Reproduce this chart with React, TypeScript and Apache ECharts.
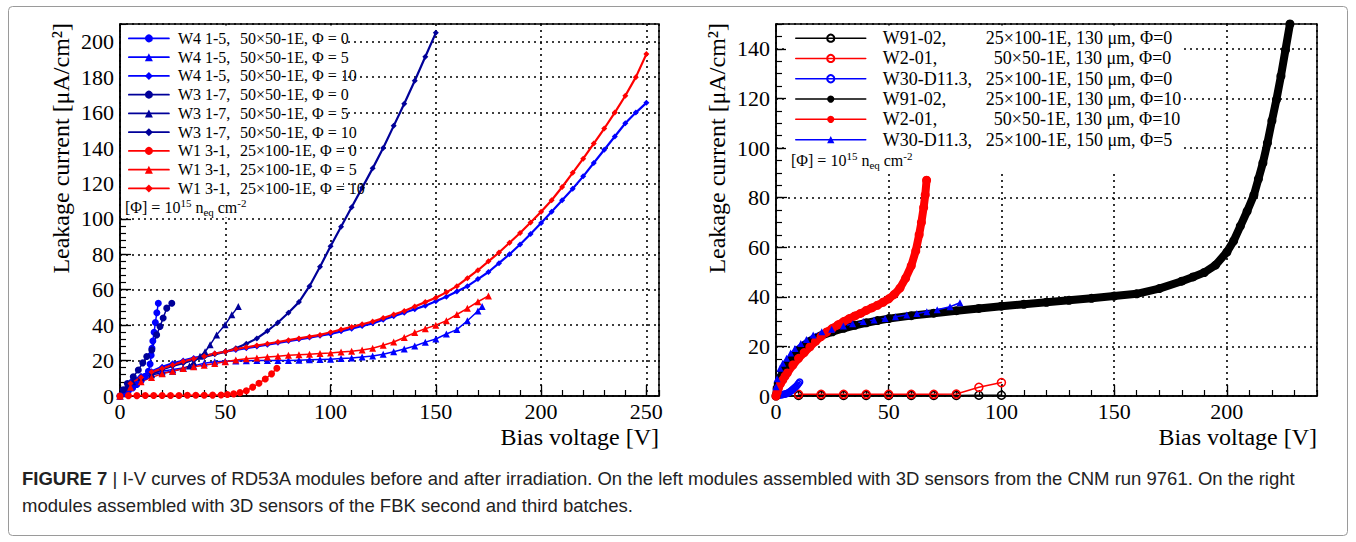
import React, { useEffect, useRef } from 'react';
import * as echarts from 'echarts';

type P = [number, number];

// ---------------- Left panel: CNM run 9761 (bias [V], current [uA/cm2]) ----------------
const L_W4_F0: P[] = [[0,0],[2,1.5],[4,3],[6,4.5],[8,6.5],[10,8.5],[12,11],[13.5,14],[14.3,18],[14.8,23],[15.2,27],[15.6,31],[16.2,36],[16.8,41.5],[17.5,47],[18.2,52.4]];
const L_W4_F5: P[] = [[0,0],[5,6.5],[10,10],[15,12.5],[20,14],[25,15],[30,15.8],[35,17],[40,18.5],[45,19.3],[50,19.6],[55,19.8],[60,19.9],[65,20],[70,20],[75,20],[80,20],[85,20.2],[90,20.4],[95,20.6],[100,20.8],[105,21.1],[110,21.4],[115,22],[120,22.6],[125,23.6],[130,25],[135,26.5],[140,28.2],[145,30.4],[150,32.2],[155,35],[160,37.5],[165,42.5],[170,48],[172,50.5]];
const L_W4_F10: P[] = [[0,0],[5,8],[10,11.5],[15,14],[20,16.5],[25,18.5],[30,20],[35,21.5],[40,22.5],[45,24],[50,25],[55,26],[60,27],[65,28],[70,29],[75,30],[80,31],[85,32],[90,33],[95,34],[100,35],[105,36.5],[110,38],[115,39.5],[120,41],[125,43],[130,45],[135,47],[140,49],[145,51],[150,53.5],[155,56],[160,59],[165,62],[170,66],[175,70],[180,75],[185,80],[190,85.5],[195,91.5],[200,97.7],[205,104],[210,110.5],[215,117],[220,124],[225,131.5],[230,139],[235,146.5],[240,154],[245,160],[250,165.5]];
const L_W3_F0: P[] = [[0,0],[1.5,3.5],[3.5,7],[6.3,10.9],[8.7,14.7],[10.8,18.7],[12.7,22.3],[15.1,26],[17.4,34.5],[19,39.2],[20.5,44],[22.2,49.6],[24.6,52.4]];
const L_W3_F5: P[] = [[0,0],[3,5],[6,8],[10,10.5],[15,12],[20,13],[25,14],[30,15.5],[33,17],[35,19],[38,22.5],[40.4,25],[42.8,28.9],[45.9,34.5],[49.9,40.2],[53.1,45.8],[56.2,50.5]];
const L_W3_F10: P[] = [[0,0],[5,7],[10,10],[15,12.5],[20,15],[25,17],[30,18.5],[35,20.5],[40,22],[45,23.5],[50,25],[55,27],[60,29.5],[65,32.5],[70,36.7],[75,41.5],[80,47],[85,53],[90,62],[95,73],[100,84.5],[105,95.5],[110,106.5],[115,117.5],[120,128.5],[125,140],[130,152.5],[135,165],[140,178],[145,191.5],[150,205]];
const L_W1_F0: P[] = [[0,0],[4,0.2],[8,0.2],[12,0.3],[16,0.3],[20,0.3],[24,0.3],[28,0.3],[32,0.4],[36,0.4],[40,0.4],[44,0.5],[48,0.6],[51,0.8],[54,1.2],[57,1.9],[60,3],[63,5],[66,7.2],[69,9.6],[72,12.5],[74.5,15.7]];
const L_W1_F5: P[] = [[0,0],[5,5],[10,8],[15,10.5],[20,12.5],[25,14],[30,15.5],[35,16.5],[40,17.3],[45,18.3],[50,19.3],[55,20.3],[60,21],[65,21.5],[70,22],[75,22.5],[80,23],[85,23.3],[90,23.6],[95,24],[100,24.3],[105,24.8],[110,25.3],[115,26],[120,27],[125,28.7],[130,30.5],[135,33],[140,35.8],[145,38],[150,40],[155,42.5],[160,46],[165,49.5],[170,53.2],[175,56.5]];
const L_W1_F10: P[] = [[0,0],[5,7],[10,10.5],[15,13.5],[20,15.5],[25,17.5],[30,19.5],[35,21],[40,22.5],[45,24],[50,25],[55,26.5],[60,27.5],[65,28.5],[70,29.5],[75,30.5],[80,31.5],[85,32.5],[90,33.5],[95,34.5],[100,36],[105,37.5],[110,39],[115,40.5],[120,42],[125,44],[130,46],[135,48],[140,50.5],[145,53],[150,55.5],[155,58.5],[160,62],[165,66.5],[170,71],[175,76],[180,81],[185,86.5],[190,92],[195,98],[200,104],[205,110.5],[210,118],[215,126],[220,134],[225,142.5],[230,151],[235,160],[240,169.5],[245,180],[250,193]];

// ---------------- Right panel: FBK batches ----------------
const R_W91_F0: P[] = [[10,0.2],[20,0.2],[30,0.2],[40,0.2],[50,0.2],[60,0.2],[70,0.2],[80,0.2],[90,0.3],[100,0.3]];
const R_W2_F0: P[] = [[10,0.7],[20,0.7],[30,0.7],[40,0.7],[50,0.7],[60,0.7],[70,0.7],[80,0.8],[90,3.5],[100,5.4]];
const R_W30_F0: P[] = [[0,0.2],[0.5,0.3],[1,0.3],[1.5,0.4],[2,0.5],[2.5,0.5],[3,0.6],[3.5,0.7],[4,0.8],[4.5,0.9],[5,1.1],[5.5,1.3],[6,1.6],[6.5,1.9],[7,2.3],[7.5,2.7],[8,3.1],[8.5,3.5],[9,3.9],[9.5,4.4],[10,5],[10.5,5.6]];
const R_W91_F10: P[] = [[0,0],[0.5,3],[1,5],[2,7.5],[3,9.5],[4,11.5],[5,13],[7.5,16],[10,18.4],[12.5,20.3],[15,22],[17.5,23.3],[20,24.3],[25,25.9],[30,27.3],[35,28.5],[40,29.5],[45,30.4],[50,31.2],[60,32.4],[70,33.4],[80,34.4],[90,35.3],[100,36.2],[110,37],[120,37.8],[130,38.6],[140,39.4],[150,40.3],[160,41.2],[170,43.3],[180,46.3],[185,48],[190,49.8],[195,52.8],[200,58],[203,62.5],[206,68.5],[209,74.5],[212,81],[214,87.5],[216,94],[218,102],[220,111],[222,119.5],[224,129],[226,139.5],[228,150]];
const R_W2_F10: P[] = [[0,0],[0.5,1.5],[1,3],[2,5],[3,6.5],[4,8],[5,9.3],[7.5,12.5],[10,15.2],[12.5,17.5],[15,19.8],[17.5,22],[20,24],[22.5,25.8],[25,27.3],[27.5,28.7],[30,30],[32.5,31.2],[35,32.3],[37.5,33.3],[40,34.5],[42.5,35.5],[45,36.6],[47.5,37.8],[50,39.2],[52.5,41],[55,43.5],[57.5,47.5],[60,52.5],[62,58.5],[63.5,65],[64.5,70],[65.5,76],[66.2,81],[66.8,87]];
const R_W30_F5: P[] = [[0,3.7],[0.5,7],[1.8,11.2],[3,13.2],[4.7,15.2],[6.5,17.3],[8.4,19.2],[11,21.2],[13.5,22.8],[16.5,24.6],[20.3,25.9],[24.7,26.9],[29.9,28.2],[34,29.1],[38.7,30],[43.5,30.6],[48.4,31.3],[53,32],[58,32.7],[62.5,33.3],[66.9,34],[71.5,34.8],[77.2,36],[81.6,37.6]];

// Legend labels (two columns each)
const LEFT_A = ['W4 1-5,', 'W4 1-5,', 'W4 1-5,', 'W3 1-7,', 'W3 1-7,', 'W3 1-7,', 'W1 3-1,', 'W1 3-1,', 'W1 3-1,'];
const LEFT_B = ['50×50-1E, Φ = 0', '50×50-1E, Φ = 5', '50×50-1E, Φ = 10', '50×50-1E, Φ = 0', '50×50-1E, Φ = 5', '50×50-1E, Φ = 10', '25×100-1E, Φ = 0', '25×100-1E, Φ = 5', '25×100-1E, Φ = 10'];
const RIGHT_A = ['W91-02,', 'W2-01,', 'W30-D11.3,', 'W91-02,', 'W2-01,', 'W30-D11.3,'];
const RIGHT_B = ['25×100-1E, 130 μm, Φ=0', '50×50-1E, 130 μm, Φ=0', '25×100-1E, 150 μm, Φ=0', '25×100-1E, 130 μm, Φ=10', '50×50-1E, 130 μm, Φ=10', '25×100-1E, 150 μm, Φ=5'];

const X_TITLE = 'Bias voltage [V]';
const Y_TITLE = 'Leakage current [μA/cm²]';
const CAPTION_1 = 'I-V curves of RD53A modules before and after irradiation. On the left modules assembled with 3D sensors from the CNM run 9761. On the right';
const CAPTION_2 = 'modules assembled with 3D sensors of the FBK second and third batches.';

const SERIF = "'Liberation Serif', 'Times New Roman', serif";
const SANS = "'Liberation Sans', Arial, sans-serif";
const BLUE = '#0000ff';
const NAVY = '#000099';
const RED = '#ff0000';
const BLACK = '#000000';

const leftNames = LEFT_A.map((a, i) => a + ' ' + LEFT_B[i]);
const rightNames = RIGHT_A.map((a, i) => a + ' ' + RIGHT_B[i]);

function majorX(gridIndex: number, max: number) {
  return {
    type: 'value', gridIndex, min: 0, max, interval: 50, position: 'bottom',
    axisLine: { show: true, onZero: false, lineStyle: { color: '#000', width: 1.5 } },
    axisTick: { show: true, inside: true, length: 11, lineStyle: { color: '#000', width: 1.3 } },
    axisLabel: { show: true, margin: 4, fontFamily: SERIF, fontSize: 22, color: '#000', showMaxLabel: false },
    splitLine: { show: true, lineStyle: { color: '#000', type: [2, 4], width: 1.6 } },
    minorTick: { show: false },
  };
}
function minorX(gridIndex: number, max: number, step: number) {
  return {
    type: 'value', gridIndex, min: 0, max, interval: step, position: 'bottom',
    axisLine: { show: false, onZero: false },
    axisTick: { show: true, inside: true, length: 6, lineStyle: { color: '#000', width: 1.2 } },
    axisLabel: { show: false }, splitLine: { show: false },
  };
}
function majorY(gridIndex: number, max: number) {
  return {
    type: 'value', gridIndex, min: 0, max, interval: 20, position: 'left',
    axisLine: { show: true, onZero: false, lineStyle: { color: '#000', width: 1.5 } },
    axisTick: { show: true, inside: true, length: 11, lineStyle: { color: '#000', width: 1.3 } },
    axisLabel: { show: true, margin: 6, fontFamily: SERIF, fontSize: 22, color: '#000', showMaxLabel: false },
    splitLine: { show: true, lineStyle: { color: '#000', type: [2, 4], width: 1.6 } },
    minorTick: { show: false },
  };
}
function minorY(gridIndex: number, max: number, step: number) {
  return {
    type: 'value', gridIndex, min: 0, max, interval: step, position: 'left',
    axisLine: { show: false, onZero: false },
    axisTick: { show: true, inside: true, length: 6, lineStyle: { color: '#000', width: 1.2 } },
    axisLabel: { show: false }, splitLine: { show: false },
  };
}

function line(name: string, data: P[], color: string, symbol: string, size: number, axis: number, lw: number, open = false) {
  return {
    type: 'line', name, data, xAxisIndex: axis, yAxisIndex: axis,
    symbol, symbolSize: size, showSymbol: true, showAllSymbol: true, clip: true, silent: true,
    lineStyle: { color, width: lw, cap: 'round', join: 'round' },
    itemStyle: open
      ? { color: 'rgba(255,255,255,0)', borderColor: color, borderWidth: 1.5 }
      : { color, borderWidth: 0 },
    emphasis: { disabled: true },
  };
}

function supText(x: number, y: number) {
  return {
    type: 'text', x, y, z: 10,
    style: {
      text: '{n|[Φ] = 10}{p|15}{n| n}{b|eq}{n| cm}{p|-2}',
      fill: '#000', align: 'left', verticalAlign: 'middle',
      rich: {
        n: { fontFamily: SERIF, fontSize: 16, lineHeight: 20, fill: '#000', verticalAlign: 'middle' },
        p: { fontFamily: SERIF, fontSize: 11, lineHeight: 12, fill: '#000', verticalAlign: 'top' },
        b: { fontFamily: SERIF, fontSize: 11, lineHeight: 12, fill: '#000', verticalAlign: 'bottom' },
      },
    },
  };
}

function buildOption() {
  const leftSeries = [
    line(leftNames[0], L_W4_F0, BLUE, 'circle', 7, 0, 1.5),
    line(leftNames[1], L_W4_F5, BLUE, 'triangle', 7, 0, 1.5),
    line(leftNames[2], L_W4_F10, BLUE, 'diamond', 6, 0, 2.2),
    line(leftNames[3], L_W3_F0, NAVY, 'circle', 7, 0, 1.5),
    line(leftNames[4], L_W3_F5, NAVY, 'triangle', 7, 0, 1.5),
    line(leftNames[5], L_W3_F10, NAVY, 'diamond', 6, 0, 2.2),
    line(leftNames[6], L_W1_F0, RED, 'circle', 7, 0, 1.5),
    line(leftNames[7], L_W1_F5, RED, 'triangle', 7, 0, 1.5),
    line(leftNames[8], L_W1_F10, RED, 'diamond', 6, 0, 2.2),
  ];
  const rightSeries = [
    line(rightNames[0], R_W91_F0, BLACK, 'circle', 8, 2, 1.5, true),
    line(rightNames[1], R_W2_F0, RED, 'circle', 8, 2, 1.5, true),
    line(rightNames[2], R_W30_F0, BLUE, 'circle', 6, 2, 1.2, true),
    line(rightNames[3], R_W91_F10, BLACK, 'circle', 9, 2, 8),
    line(rightNames[4], R_W2_F10, RED, 'circle', 9, 2, 8),
    line(rightNames[5], R_W30_F5, BLUE, 'triangle', 7, 2, 1.5),
  ];
  const leftMap: Record<string, string> = {};
  leftNames.forEach((n, i) => { leftMap[n] = `{a|${LEFT_A[i]}}{b|${LEFT_B[i]}}`; });
  const rightMap: Record<string, string> = {};
  rightNames.forEach((n, i) => {
    rightMap[n] = RIGHT_A[i] === 'W2-01,' ? `{c|${RIGHT_A[i]}}{b|${RIGHT_B[i]}}` : `{a|${RIGHT_A[i]}}{b|${RIGHT_B[i]}}`;
  });

  return {
    animation: false,
    backgroundColor: '#ffffff',
    grid: [
      { left: 120, top: 24, width: 539, height: 372, show: true, borderColor: '#000', borderWidth: 1.5, backgroundColor: 'transparent' },
      { left: 776, top: 24, width: 541, height: 372, show: true, borderColor: '#000', borderWidth: 1.5, backgroundColor: 'transparent' },
    ],
    xAxis: [majorX(0, 256), minorX(0, 256, 10), majorX(1, 240), minorX(1, 240, 10)],
    yAxis: [majorY(0, 210), minorY(0, 210, 4), majorY(1, 150), minorY(1, 150, 5)],
    legend: [
      {
        data: leftNames, orient: 'vertical', left: 128, top: 29, padding: 0, itemGap: 0,
        itemWidth: 40, itemHeight: 10, selectedMode: false,
        lineStyle: { width: 1.8 },
        formatter: (n: string) => leftMap[n],
        textStyle: {
          fontFamily: SERIF, fontSize: 16, color: '#000', lineHeight: 18.75,
          rich: {
            a: { fontFamily: SERIF, fontSize: 16, color: '#000', lineHeight: 18.75, width: 62, padding: [0, 0, 0, 4] },
            b: { fontFamily: SERIF, fontSize: 16, color: '#000', lineHeight: 18.75 },
          },
        },
      },
      {
        data: rightNames, orient: 'vertical', left: 795, top: 28, padding: 0, itemGap: 0,
        itemWidth: 70, itemHeight: 9, selectedMode: false,
        lineStyle: { width: 1.5 },
        formatter: (n: string) => rightMap[n],
        textStyle: {
          fontFamily: SERIF, fontSize: 18, color: '#000', lineHeight: 20.3,
          rich: {
            a: { fontFamily: SERIF, fontSize: 18, color: '#000', lineHeight: 20.3, width: 103, padding: [0, 0, 0, 12] },
            c: { fontFamily: SERIF, fontSize: 18, color: '#000', lineHeight: 20.3, width: 111, padding: [0, 0, 0, 12] },
            b: { fontFamily: SERIF, fontSize: 18, color: '#000', lineHeight: 20.3 },
          },
        },
      },
    ],
    graphic: [
      { type: 'rect', z: 1, silent: true, shape: { x: 8.5, y: 6.5, width: 1339, height: 529, r: 4 }, style: { fill: 'none', stroke: '#9a9a9a', lineWidth: 1 } },
      { type: 'rect', z: 1, silent: true, shape: { x: 121, y: 25.5, width: 222, height: 192 }, style: { fill: '#ffffff' } },
      { type: 'rect', z: 1, silent: true, shape: { x: 786, y: 25.5, width: 394, height: 145 }, style: { fill: '#ffffff' } },
      supText(125, 207),
      supText(791, 160),
      { type: 'text', z: 10, x: 659, y: 437, style: { text: X_TITLE, fontFamily: SERIF, fontSize: 24, fill: '#000', align: 'right', verticalAlign: 'middle' } },
      { type: 'text', z: 10, x: 1317, y: 437, style: { text: X_TITLE, fontFamily: SERIF, fontSize: 24, fill: '#000', align: 'right', verticalAlign: 'middle' } },
      { type: 'text', z: 10, x: 61, y: 23, rotation: Math.PI / 2, style: { text: Y_TITLE, fontFamily: SERIF, fontSize: 24, fill: '#000', align: 'right', verticalAlign: 'middle' } },
      { type: 'text', z: 10, x: 717, y: 23, rotation: Math.PI / 2, style: { text: Y_TITLE, fontFamily: SERIF, fontSize: 24, fill: '#000', align: 'right', verticalAlign: 'middle' } },
      {
        type: 'text', z: 10, x: 22, y: 478,
        style: {
          text: '{b|FIGURE 7}{n| | ' + CAPTION_1 + '}',
          align: 'left', verticalAlign: 'middle',
          rich: {
            b: { fontFamily: SANS, fontSize: 18.5, fontWeight: 'bold', fill: '#222' },
            n: { fontFamily: SANS, fontSize: 18.5, fill: '#222' },
          },
        },
      },
      { type: 'text', z: 10, x: 22, y: 505, style: { text: CAPTION_2, fontFamily: SANS, fontSize: 18.5, fill: '#222', align: 'left', verticalAlign: 'middle' } },
    ],
    series: [...leftSeries, ...rightSeries],
  };
}

export default function App() {
  const ref = useRef<HTMLDivElement>(null);
  useEffect(() => {
    if (!ref.current) return;
    const chart = echarts.init(ref.current, null, { renderer: 'svg' });
    chart.setOption(buildOption() as any);
    return () => chart.dispose();
  }, []);
  return <div ref={ref} style={{ position: 'absolute', left: 0, top: 0, width: 1356, height: 542, background: '#fff' }} />;
}
